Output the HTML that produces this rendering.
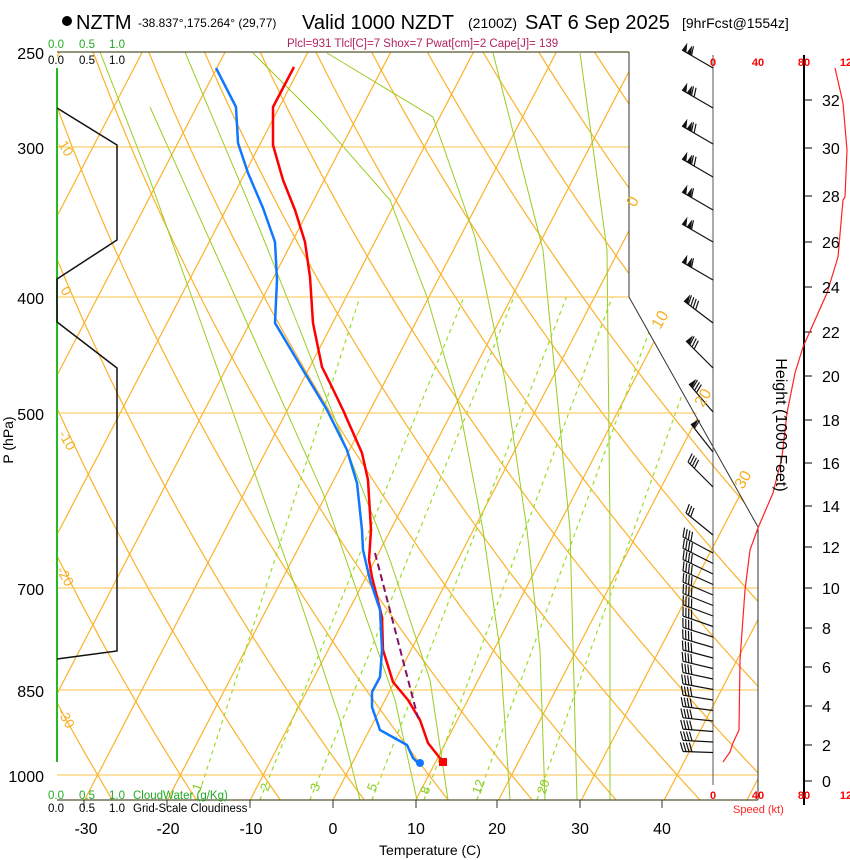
<!DOCTYPE html>
<html><head><meta charset="utf-8"><style>
html,body{margin:0;padding:0;background:#fff;}
svg{display:block;font-family:"Liberation Sans",Arial,sans-serif;}
</style></head><body>
<svg id="s" width="850" height="860" viewBox="0 0 850 860" xmlns="http://www.w3.org/2000/svg">
<defs><clipPath id="c"><polygon points="57,52 629,52 629,297 758,527 758,800 57,800"/></clipPath></defs>
<g id="grid" clip-path="url(#c)"></g>
<g stroke="#fbc34a" stroke-width="1">
<line x1="57" y1="147" x2="629" y2="147"/><line x1="57" y1="297" x2="629" y2="297"/>
<line x1="57" y1="413" x2="697" y2="413"/><line x1="57" y1="588" x2="758" y2="588"/>
<line x1="57" y1="690" x2="758" y2="690"/><line x1="57" y1="775" x2="758" y2="775"/>
</g>
<g stroke="#555533" stroke-width="1.2" fill="none">
<line x1="57" y1="52" x2="629" y2="52"/><line x1="57" y1="800" x2="758" y2="800"/>
</g>
<polyline points="629,52 629,297 758,527 758,800" fill="none" stroke="#333" stroke-width="1"/>
<line x1="713" y1="55" x2="713" y2="785" stroke="#555" stroke-width="1"/>
<g stroke="#333" stroke-width="1">
<line x1="84" y1="800" x2="84" y2="808"/><line x1="167" y1="800" x2="167" y2="808"/><line x1="250" y1="800" x2="250" y2="808"/><line x1="333" y1="800" x2="333" y2="808"/><line x1="416" y1="800" x2="416" y2="808"/><line x1="497" y1="800" x2="497" y2="808"/><line x1="580" y1="800" x2="580" y2="808"/><line x1="662" y1="800" x2="662" y2="808"/>
</g>
<line x1="57" y1="68" x2="57" y2="762" stroke="#22bb22" stroke-width="2"/>
<polyline points="57,108 117,145 117,240 57,279 57,322 117,368 117,651 57,659" fill="none" stroke="#111" stroke-width="1.5"/>
<polyline points="294,67 273,107 273,145 283,180 295,210 305,242 310,277 313,323 322,367 330,383 343,410 362,453 368,480 371,530 369,560 372,577 382,617 383,650 393,682 408,700 420,720 428,743 443,762" fill="none" stroke="#ff0000" stroke-width="2.5" stroke-linejoin="round"/>
<polyline points="216,68 236,107 238,143 248,173 263,208 275,242 277,280 275,323 303,370 327,410 347,450 357,483 362,530 363,550 370,580 380,610 382,650 380,677 372,692 372,707 380,730 407,745 413,758 418,763" fill="none" stroke="#1177ff" stroke-width="2.5" stroke-linejoin="round"/>
<line x1="375" y1="553" x2="418" y2="718" stroke="#881166" stroke-width="2" stroke-dasharray="7,4"/>
<rect x="439" y="758" width="8" height="8" fill="#ff0000"/>
<circle cx="420" cy="763" r="4" fill="#1177ff"/>
<g id="barbs" stroke="#111" stroke-width="1.2" fill="#111"></g>
<line x1="804" y1="55" x2="804" y2="805" stroke="#000" stroke-width="2"/>
<g id="hticks" stroke="#000" stroke-width="1"></g>
<polyline points="723,762 730,752 733,743 739,730 740,660 745,590 750,550 758,528 773,493 782,457 787,413 795,373 803,347 827,293 838,257 843,200 845,197 847,150 843,103 835,68" fill="none" stroke="#ff2222" stroke-width="1.2"/>
<g font-size="20" fill="#000">
<circle cx="67" cy="21" r="5" fill="#000"/>
<text x="76" y="29">NZTM</text>
<text x="302" y="29">Valid 1000 NZDT</text>
<text x="525" y="29">SAT 6 Sep 2025</text>
</g>
<text x="138" y="27" font-size="12">-38.837°,175.264° (29,77)</text>
<text x="468" y="28" font-size="14">(2100Z)</text>
<text x="682" y="28" font-size="14">[9hrFcst@1554z]</text>
<text x="287" y="47" font-size="11.5" fill="#b3245c">Plcl=931 Tlcl[C]=7 Shox=7 Pwat[cm]=2 Cape[J]= 139</text>
<g font-size="16" fill="#000" text-anchor="end">
<text x="44" y="59">250</text><text x="44" y="154">300</text><text x="44" y="304">400</text><text x="44" y="420">500</text><text x="44" y="595">700</text><text x="44" y="697">850</text><text x="44" y="782">1000</text>
</g>
<text transform="translate(13,440) rotate(-90)" font-size="14" text-anchor="middle">P (hPa)</text>
<g font-size="11.5" fill="#22aa22"><text x="48" y="48">0.0</text><text x="79" y="48">0.5</text><text x="109" y="48">1.0</text>
<text x="48" y="799">0.0</text><text x="79" y="799">0.5</text><text x="109" y="799">1.0</text><text x="133" y="799">CloudWater (g/Kg)</text></g>
<g font-size="11.5" fill="#000"><text x="48" y="64">0.0</text><text x="79" y="64">0.5</text><text x="109" y="64">1.0</text>
<text x="48" y="812">0.0</text><text x="79" y="812">0.5</text><text x="109" y="812">1.0</text><text x="133" y="812">Grid-Scale Cloudiness</text></g>
<g font-size="16" fill="#000" text-anchor="middle">
<text x="86" y="834">-30</text><text x="168" y="834">-20</text><text x="251" y="834">-10</text><text x="333" y="834">0</text><text x="416" y="834">10</text><text x="497" y="834">20</text><text x="580" y="834">30</text><text x="662" y="834">40</text>
</g>
<text x="430" y="855" font-size="14" text-anchor="middle">Temperature (C)</text>
<text transform="translate(776,425) rotate(90)" font-size="16" text-anchor="middle">Height (1000 Feet)</text>
<g font-size="11" fill="#ff0000" font-weight="bold" text-anchor="middle">
<text x="713" y="66">0</text><text x="758" y="66">40</text><text x="804" y="66">80</text><text x="846" y="66">12</text>
<text x="713" y="799">0</text><text x="758" y="799">40</text><text x="804" y="799">80</text><text x="846" y="799">12</text>
</g>
<text x="733" y="813" font-size="11" fill="#ff2222">Speed (kt)</text>
<g font-size="16" fill="#000" id="hl"></g>
<g font-size="14" fill="#f5b022">
<text transform="translate(58,144) rotate(60)">10</text>
<text transform="translate(60,290) rotate(60)">0</text>
<text transform="translate(58,434) rotate(60)">-10</text>
<text transform="translate(56,570) rotate(60)">-20</text>
<text transform="translate(57,712) rotate(60)">-30</text>
<text transform="translate(635,208) rotate(-60)" font-size="16">0</text>
<text transform="translate(660,330) rotate(-60)" font-size="16">10</text>
<text transform="translate(703,408) rotate(-60)" font-size="16">20</text>
<text transform="translate(743,490) rotate(-60)" font-size="16">30</text>
</g>
<g font-size="13" fill="#88cc22">
<text transform="translate(200,792) rotate(-70)">1</text>
<text transform="translate(268,792) rotate(-70)">2</text>
<text transform="translate(318,792) rotate(-70)">3</text>
<text transform="translate(375,792) rotate(-70)">5</text>
<text transform="translate(428,795) rotate(-70)">8</text>
<text transform="translate(480,795) rotate(-70)">12</text>
<text transform="translate(545,795) rotate(-70)">20</text>
</g>
</svg>
<script>
var NS="http://www.w3.org/2000/svg";
function el(p,n,a){var e=document.createElementNS(NS,n);for(var k in a)e.setAttribute(k,a[k]);p.appendChild(e);return e;}
function Y(p){return 52+521.5*Math.log(p/250);}
function X(T,y){return 333+8.28*T+0.52*(800-y);}
var g=document.getElementById('grid');
for(var T=-120;T<=60;T+=10){el(g,'line',{x1:X(T,800),y1:800,x2:X(T,40),y2:40,stroke:'#fbb22a','stroke-width':1.2});}
for(var th=-50;th<=260;th+=10){var pts=[];for(var p=240;p<=1060;p+=10){var t=(th+273.15)*Math.pow(p/1000,0.286)-273.15;var y=Y(p);pts.push(X(t,y).toFixed(1)+','+y.toFixed(1));}
el(g,'polyline',{points:pts.join(' '),fill:'none',stroke:'#fbb22a','stroke-width':1.2});}
var M=[[[150,107],[247,323],[323,493],[360,600],[395,700],[417,800]],
[[185,52],[260,230],[300,330],[347,450],[390,560],[430,680],[448,800]],
[[253,53],[320,120],[390,200],[427,297],[460,410],[483,530],[500,650],[510,800]],
[[327,53],[433,117],[475,237],[505,380],[527,530],[540,650],[545,800]],
[[493,53],[543,250],[570,530],[577,800]],
[[580,53],[607,250],[610,530],[610,800]],
[[100,52],[150,180],[200,320],[250,460],[300,600],[340,720],[360,800]]];
M.forEach(function(m){el(g,'polyline',{points:m.map(function(q){return q.join(',')}).join(' '),fill:'none',stroke:'#99cc22','stroke-width':1});});
[[205,0.324],[268,0.41],[318,0.41],[380,0.39],[432,0.377],[485,0.37],[545,0.36]].forEach(function(m){
el(g,'line',{x1:m[0]-0.324*25,y1:800,x2:m[0]+m[1]*478,y2:297,stroke:'#99dd22','stroke-width':1.2,'stroke-dasharray':'4,4'});});
var b=document.getElementById('barbs');
function barb(y,dx,dy,nf,nb){var L=Math.hypot(dx,dy),ux=dx/L,uy=dy/L,px=-uy,py=ux;if(py>0){px=-px;py=-py;}
var x0=713,x1=713+dx,y1=y+dy;el(b,'line',{x1:x0,y1:y,x2:x1,y2:y1});
var s=0;for(var i=0;i<nf;i++){var ax=x1-ux*s,ay=y1-uy*s,bx=x1-ux*(s+5),by=y1-uy*(s+5);
el(b,'polygon',{points:ax+','+ay+' '+bx+','+by+' '+(ax+px*9-ux*1)+','+(ay+py*9-uy*1),stroke:'none'});s+=5.5;}
for(var j=0;j<nb;j++){var cx=x1-ux*s,cy=y1-uy*s;el(b,'line',{x1:cx,y1:cy,x2:cx+px*9+ux*3,y2:cy+py*9+uy*3});s+=3;}}
[[68,2,1],[108,2,2],[144,2,2],[177,2,2],[210,2,1],[242,2,1],[280,2,1]].forEach(function(a){barb(a[0],-31,-18,a[1],a[2]);});
barb(323,-29,-22,1,4);barb(368,-27,-27,1,3);barb(412,-24,-28,1,3);barb(452,-22,-28,1,1);barb(487,-25,-25,0,4);barb(535,-27,-22,0,3);
for(var y=553,k=0;y<=762;y+=10.5,k++){var dy=-16+k*0.8;if(dy>-1)dy=-1;barb(y,-30,dy,0,4);}
var h=document.getElementById('hticks'),hl=document.getElementById('hl');
var HY=[781,745,706,667,628,588,547,506,463,420,376,332,287,242,196,148,100];
HY.forEach(function(yy,i){el(h,'line',{x1:804,y1:yy,x2:812,y2:yy});var t=el(hl,'text',{x:822,y:yy+6});t.textContent=String(i*2);});
</script>
</body></html>
